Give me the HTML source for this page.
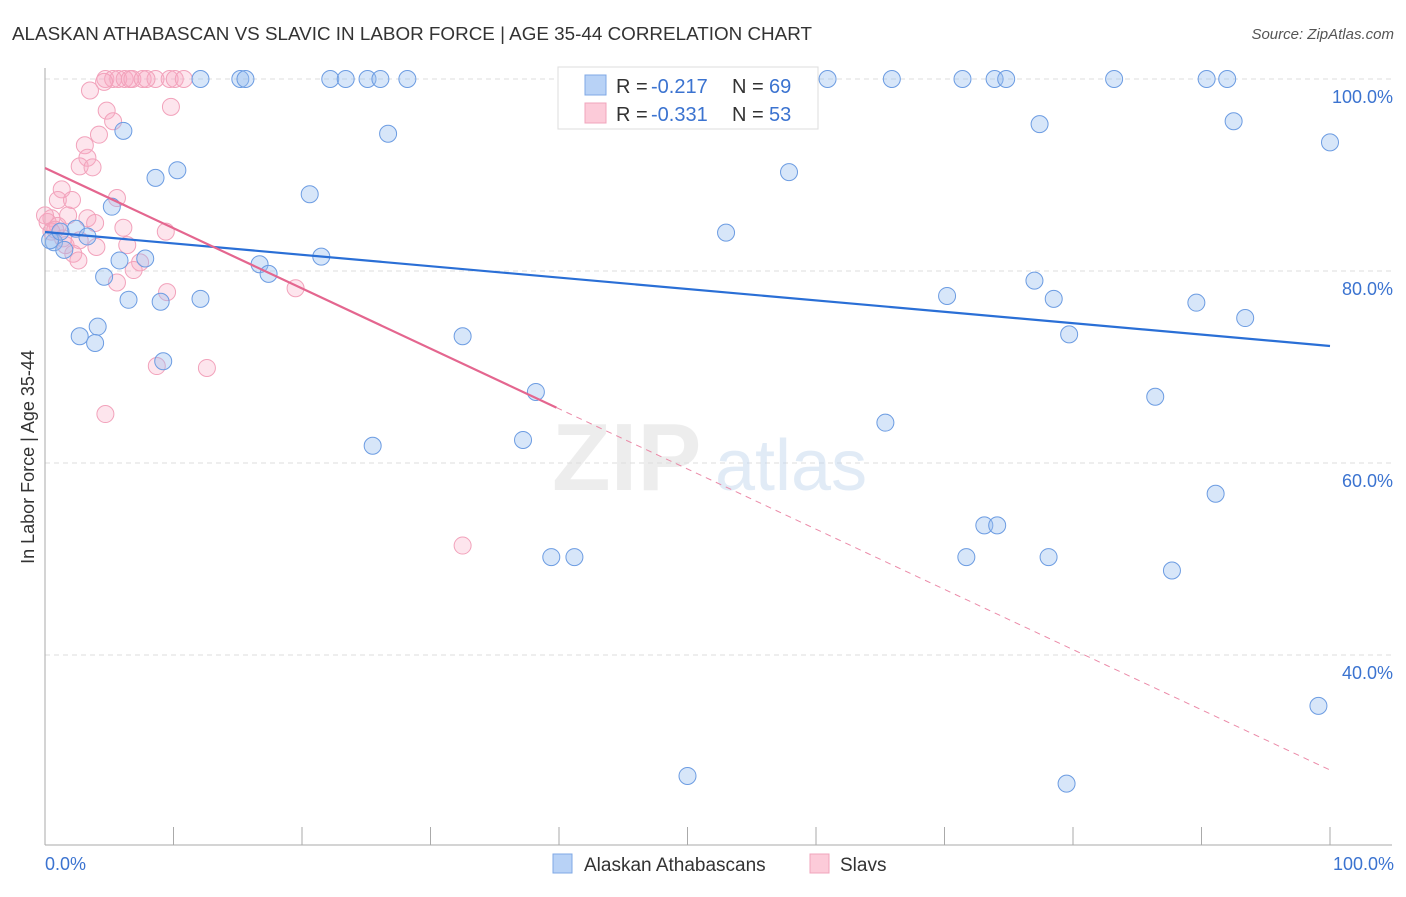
<!DOCTYPE html>
<html><head><meta charset="utf-8"><style>
body{margin:0;background:#fff;font-family:"Liberation Sans",sans-serif;}
svg text{font-family:"Liberation Sans",sans-serif;}
</style></head><body>
<svg id="chart" width="1406" height="892" xmlns="http://www.w3.org/2000/svg">
<text x="12" y="40" font-size="18.5" fill="#333" textLength="800" lengthAdjust="spacingAndGlyphs">ALASKAN ATHABASCAN VS SLAVIC IN LABOR FORCE | AGE 35-44 CORRELATION CHART</text>
<text x="1394" y="39" font-size="15" fill="#555" font-style="italic" text-anchor="end">Source: ZipAtlas.com</text>
<text transform="translate(34,457) rotate(-90)" font-size="18" fill="#333" text-anchor="middle">In Labor Force | Age 35-44</text>
<g id="grid"></g>
<g opacity="0.5">
<text x="552" y="490" font-size="96" fill="#ddd" font-family="Liberation Serif" font-weight="bold">ZIP</text>
<text x="715" y="490" font-size="72" fill="#c5d8ef">atlas</text>
</g>
<g id="pts"></g>
<g id="trend"></g>
<g>
<rect x="558" y="67" width="260" height="62" fill="#fff" stroke="#ddd"/>
<rect x="585" y="75" width="21" height="20" fill="#b8d2f6" stroke="#7fa8e6"/>
<rect x="585" y="103" width="21" height="20" fill="#fccbd9" stroke="#f0a5bc"/>
<text x="616" y="93" font-size="20" fill="#333">R =</text>
<text x="651" y="93" font-size="20" fill="#3b73d0">-0.217</text>
<text x="732" y="93" font-size="20" fill="#333">N =</text>
<text x="769" y="93" font-size="20" fill="#3b73d0">69</text>
<text x="616" y="121" font-size="20" fill="#333">R =</text>
<text x="651" y="121" font-size="20" fill="#3b73d0">-0.331</text>
<text x="732" y="121" font-size="20" fill="#333">N =</text>
<text x="769" y="121" font-size="20" fill="#3b73d0">53</text>
</g>
<g>
<rect x="553" y="854" width="19" height="19" fill="#b8d2f6" stroke="#7fa8e6"/>
<text x="584" y="871" font-size="19" fill="#333">Alaskan Athabascans</text>
<rect x="810" y="854" width="19" height="19" fill="#fccbd9" stroke="#f0a5bc"/>
<text x="840" y="871" font-size="19" fill="#333">Slavs</text>
</g>
<text x="45" y="870" font-size="18" fill="#3b73d0">0.0%</text>
<text x="1394" y="870" font-size="18" fill="#3b73d0" text-anchor="end">100.0%</text>
</svg>
<script>
const yTicks=[100,80,60,40];
const yTickLabels=["100.0%","80.0%","60.0%","40.0%"];
const xTicks=[0,10,20,30,40,50,60,70,80,90,100];
const blueX=[12.1,15.2,15.6,22.2,23.4,25.1,26.1,28.2,60.9,65.9,71.4,73.9,74.8,83.2,90.4,92.0,6.1,26.7,77.4,92.5,100,8.6,10.3,20.6,57.9,5.2,0.7,1.5,2.4,3.3,53.0,5.8,7.8,16.7,17.4,21.5,4.6,6.5,9.0,12.1,70.2,77.0,78.5,89.6,93.4,2.7,4.1,3.9,9.2,32.5,79.7,38.2,86.4,65.4,25.5,37.2,91.1,73.1,74.1,39.4,41.2,71.7,78.1,87.7,99.1,50.0,79.5,0.4,1.2];
const blueY=[100,100,100,100,100,100,100,100,100,100,100,100,100,100,100,100,94.6,94.3,95.3,95.6,93.4,89.7,90.5,88.0,90.3,86.7,83.0,82.2,84.4,83.6,84.0,81.1,81.3,80.7,79.7,81.5,79.4,77.0,76.8,77.1,77.4,79.0,77.1,76.7,75.1,73.2,74.2,72.5,70.6,73.2,73.4,67.4,66.9,64.2,61.8,62.4,56.8,53.5,53.5,50.2,50.2,50.2,50.2,48.8,34.7,27.4,26.6,83.2,84.1];
const pinkX=[4.7,5.3,5.7,6.2,6.6,6.8,7.6,8.6,9.7,10.1,10.8,7.9,3.5,4.6,9.8,4.8,5.3,4.2,3.1,3.3,2.7,3.7,1.3,1.0,2.1,5.6,0.5,1.8,3.3,3.9,0.2,1.0,9.4,6.1,0.5,1.4,2.7,4.0,6.4,2.2,2.6,7.4,6.9,5.6,9.5,19.5,8.7,12.6,4.7,32.5,0.8,1.6,0];
const pinkY=[100,100,100,100,100,100,100,100,100,100,100,100,98.8,99.7,97.1,96.7,95.6,94.2,93.1,91.8,90.9,90.8,88.5,87.4,87.4,87.6,85.5,85.8,85.5,85.0,85.1,84.7,84.1,84.5,84.1,83.4,83.2,82.5,82.7,81.8,81.1,80.9,80.1,78.8,77.8,78.2,70.1,69.9,65.1,51.4,84.3,82.7,85.8];
const blueTrend=[84.06,72.19];
const pinkTrend=[90.73,28.02];
const pinkSolidEnd=39.8;
const NS="http://www.w3.org/2000/svg";
const X=v=>45+v*12.85, Y=v=>79+(100-v)*9.6;
function mk(t,a,p){const e=document.createElementNS(NS,t);for(const k in a)e.setAttribute(k,a[k]);p.appendChild(e);return e;}
const grid=document.getElementById('grid');
yTicks.forEach((t,i)=>{
 const l=mk('line',{x1:45,x2:1392,y1:Y(t),y2:Y(t),stroke:'#ddd','stroke-dasharray':'5,4'},grid);
 
 
 const tx=mk('text',{x:1393,y:Y(t)+24,'font-size':18,fill:'#3b73d0','text-anchor':'end'},grid);
 tx.textContent=yTickLabels[i];
 
 
});
const ax=mk('line',{x1:45,x2:45,y1:68,y2:845,stroke:'#aaa'},grid);


const bx=mk('line',{x1:45,x2:1392,y1:845,y2:845,stroke:'#aaa'},grid);


xTicks.forEach(t=>{const l=mk('line',{x1:X(t),x2:X(t),y1:827,y2:845,stroke:'#aaa'},grid);
 
 });
const pts=document.getElementById('pts');
pinkX.forEach((v,i)=>{const c=mk('circle',{cx:X(v),cy:Y(pinkY[i]),r:8.5,fill:'rgba(248,170,196,0.3)',stroke:'#f2a2bb','stroke-width':1},pts);
 
 });
blueX.forEach((v,i)=>{const c=mk('circle',{cx:X(v),cy:Y(blueY[i]),r:8.5,fill:'rgba(150,190,240,0.38)',stroke:'#6c9ce2','stroke-width':1},pts);
 
 });
const tr=document.getElementById('trend');
const pAt=x=>pinkTrend[0]+(pinkTrend[1]-pinkTrend[0])*x/100;
let l1=mk('line',{x1:X(0),y1:Y(blueTrend[0]),x2:X(100),y2:Y(blueTrend[1]),stroke:'#2a6fd6','stroke-width':2.2},tr);


let l2=mk('line',{x1:X(0),y1:Y(pinkTrend[0]),x2:X(pinkSolidEnd),y2:Y(pAt(pinkSolidEnd)),stroke:'#e4668f','stroke-width':2.2},tr);


let l3=mk('line',{x1:X(pinkSolidEnd),y1:Y(pAt(pinkSolidEnd)),x2:X(100),y2:Y(pinkTrend[1]),stroke:'#eb8aa8','stroke-width':1,'stroke-dasharray':'6,5'},tr);


</script>
</body></html>
